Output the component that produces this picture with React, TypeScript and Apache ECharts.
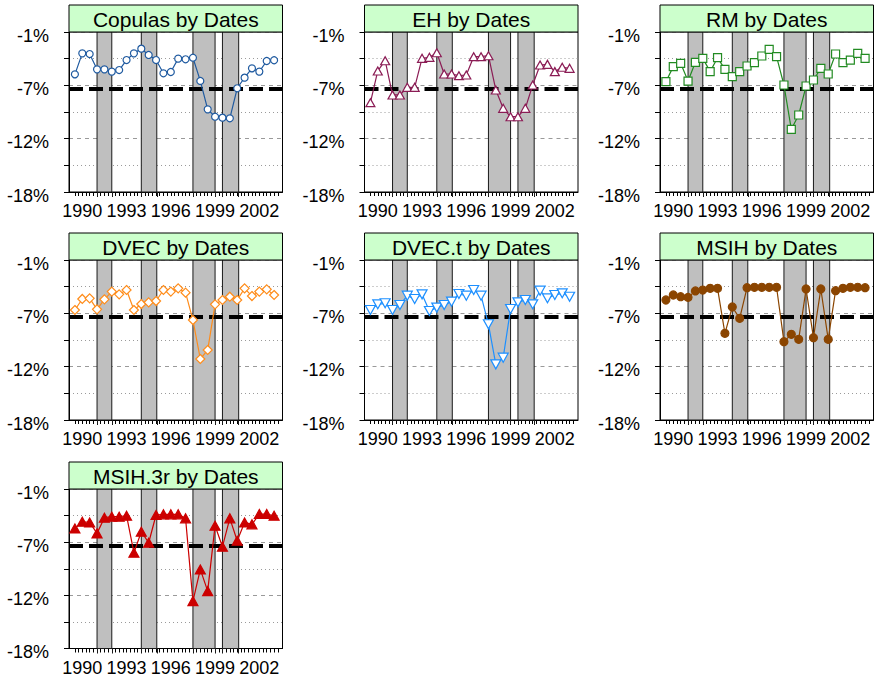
import React, { useEffect, useRef } from "react";
import * as echarts from "echarts";

const FONT = '"Liberation Sans", Arial, sans-serif';

const panelNames = ["Copulas", "EH", "RM", "DVEC", "DVEC.t", "MSIH", "MSIH.3r"];

const dates = [
  1989.5, 1990.0, 1990.5, 1991.0, 1991.5, 1992.0, 1992.5, 1993.0, 1993.5, 1994.0,
  1994.5, 1995.0, 1995.5, 1996.0, 1996.5, 1997.0, 1997.5, 1998.0, 1998.5, 1999.0,
  1999.5, 2000.0, 2000.5, 2001.0, 2001.5, 2002.0, 2002.5, 2003.0,
];

const copulas = [-5.5, -3.27, -3.34, -4.97, -4.97, -5.21, -5.04, -3.98, -3.27, -2.77, -3.44, -3.98, -5.39, -5.25, -3.83, -3.9, -3.73, -6.2, -9.22, -10.0, -10.1, -10.17, -6.98, -5.85, -4.86, -5.21, -4.08, -4.0];
const eh = [-8.51, -5.14, -4.05, -7.69, -7.69, -6.88, -6.88, -3.8, -3.69, -3.2, -5.46, -5.46, -5.64, -5.57, -3.62, -3.62, -3.52, -7.16, -9.11, -10.0, -10.0, -9.11, -6.63, -4.51, -4.44, -5.21, -4.75, -4.86];
const rm = [-6.28, -4.68, -4.33, -6.21, -4.22, -3.8, -5.21, -3.73, -4.97, -5.75, -5.21, -4.61, -4.26, -3.55, -2.84, -3.62, -6.63, -11.34, -9.82, -6.74, -6.1, -4.86, -5.46, -3.34, -4.26, -3.98, -3.27, -3.8];
const dvec = [-6.31, -5.14, -5.07, -6.24, -5.18, -4.36, -4.65, -4.19, -6.31, -5.68, -5.5, -5.36, -4.19, -4.36, -4.01, -4.47, -7.38, -11.52, -10.56, -5.71, -5.25, -4.9, -5.25, -4.01, -4.83, -4.36, -4.12, -4.72];
const dvecT = [-6.31, -5.71, -5.6, -6.31, -5.78, -4.79, -5.14, -4.65, -6.42, -6.06, -5.78, -5.43, -4.61, -4.79, -4.19, -4.79, -7.83, -12.09, -11.38, -6.21, -5.5, -5.25, -5.71, -4.26, -5.07, -4.72, -4.54, -4.9];
const msih = [-5.25, -4.72, -4.9, -4.97, -4.29, -4.19, -4.01, -4.01, -8.79, -5.99, -7.2, -3.94, -3.9, -3.9, -3.9, -3.9, -9.68, -8.9, -9.43, -4.08, -9.25, -4.08, -9.43, -4.26, -4.01, -3.9, -3.9, -3.94];
const msih3r = [-5.2, -4.49, -4.56, -5.73, -4.06, -3.95, -3.95, -3.85, -7.79, -5.55, -6.73, -3.77, -3.7, -3.7, -3.7, -4.13, -12.95, -9.57, -11.88, -4.91, -7.15, -4.13, -6.51, -4.56, -4.77, -3.67, -3.67, -3.85];

const seriesValues = [copulas, eh, rm, dvec, dvecT, msih, msih3r];

// shaded periods (decimal years)
const bands = [
  [1991.0, 1992.0],
  [1994.0, 1995.05],
  [1997.5, 1999.0],
  [1999.5, 2000.6],
];
const bandEdges = bands.flat();

const threshold = -7;
const yMin = -18;
const yMax = -1;
const xMin = 1989.1;
const xMax = 2003.57;
const yearLabels = [1990, 1993, 1996, 1999, 2002];
const quarterTicks: number[] = [];
for (let q = 1989.5; q <= 2003.26; q += 0.25) quarterTicks.push(Math.round(q * 100) / 100);

const styles = [
  { color: "#1f5aa0", symbol: "circle", size: 7, filled: false, rotate: 0 },
  { color: "#8b1c55", symbol: "triangle", size: [9, 8], filled: false, rotate: 0 },
  { color: "#228b22", symbol: "rect", size: 8, filled: false, rotate: 0 },
  { color: "#ff8c1a", symbol: "diamond", size: [9, 9], filled: false, rotate: 0 },
  { color: "#1e90ff", symbol: "triangle", size: [10, 9], filled: false, rotate: 180 },
  { color: "#8b4500", symbol: "circle", size: 8, filled: true, rotate: 0 },
  { color: "#cc0000", symbol: "triangle", size: [10, 9], filled: true, rotate: 0 },
];

const PANEL_W = 213.5;
const STRIP_H = 27;
const lefts = [69, 364.5, 660];
const tops = [32, 260, 489];
const heights = [160, 160, 159.5];

export default function App() {
  const ref = useRef<HTMLDivElement>(null);
  useEffect(() => {
    if (!ref.current) return;
    const chart = echarts.init(ref.current, null, { renderer: "svg" });
    const grids: any[] = [];
    const xAxes: any[] = [];
    const yAxes: any[] = [];
    const series: any[] = [];
    const graphics: any[] = [];
    panelNames.forEach((name, i) => {
      const col = i % 3;
      const row = Math.floor(i / 3);
      const left = lefts[col];
      const top = tops[row];
      const h = heights[row];
      grids.push({
        left,
        top,
        width: PANEL_W,
        height: h,
        show: true,
        borderColor: "#000",
        borderWidth: 1,
        backgroundColor: "#fff",
        containLabel: false,
        outerBoundsMode: "none",
      });
      xAxes.push({
        type: "value",
        gridIndex: i,
        position: "bottom",
        min: xMin,
        max: xMax,
        axisLine: { show: true, onZero: false, lineStyle: { color: "#000", width: 1 } },
        axisTick: { show: true, length: 4, customValues: quarterTicks, lineStyle: { color: "#000", width: 1 } },
        axisLabel: {
          customValues: yearLabels,
          formatter: (v: number) => String(Math.round(v)),
          fontSize: 18,
          fontFamily: FONT,
          color: "#000",
          margin: 10,
        },
        splitLine: { show: false },
      });
      yAxes.push({
        type: "value",
        gridIndex: i,
        min: yMin,
        max: yMax,
        interval: (yMax - yMin) / 3,
        axisLine: { show: true, onZero: false, lineStyle: { color: "#000", width: 1 } },
        axisTick: { show: true, length: 5, lineStyle: { color: "#000", width: 1 } },
        minorTick: { show: true, splitNumber: 2, length: 5, lineStyle: { color: "#000", width: 1 } },
        splitLine: { show: true, lineStyle: { color: "#9a9a9a", type: [4, 4], width: 1 } },
        minorSplitLine: { show: true, lineStyle: { color: "#9a9a9a", type: [1, 3], width: 1 } },
        axisLabel: {
          formatter: (v: number) => Math.round(v) + "%",
          fontSize: 18,
          fontFamily: FONT,
          color: "#000",
          margin: 20,
          verticalAlign: "top",
          lineHeight: 7,
        },
      });
      const st = styles[i];
      series.push({
        type: "line",
        name,
        xAxisIndex: i,
        yAxisIndex: i,
        data: dates.map((d, k) => [d, seriesValues[i][k]]),
        z: 3,
        symbol: st.symbol,
        symbolSize: st.size,
        symbolRotate: st.rotate,
        showSymbol: true,
        showAllSymbol: true,
        lineStyle: { color: st.color, width: 1.2 },
        itemStyle: {
          color: st.filled ? st.color : "#fff",
          borderColor: st.color,
          borderWidth: 1.2,
        },
        emphasis: { disabled: true },
        markArea: {
          silent: true,
          z: 1,
          itemStyle: { color: "#bfbfbf", borderColor: "#1a1a1a", borderWidth: 1 },
          label: { show: false },
          data: bands.map((b) => [{ xAxis: b[0] }, { xAxis: b[1] }]),
        },
        markLine: {
          silent: true,
          z: 2,
          symbol: ["none", "none"],
          label: { show: false },
          lineStyle: { color: "#000", width: 4, type: [14, 6] },
          data: [{ yAxis: threshold }],
        },
      });
      graphics.push({
        type: "rect",
        shape: { x: left, y: top - STRIP_H, width: PANEL_W, height: STRIP_H },
        style: { fill: "#ccffcc", stroke: "#000", lineWidth: 1 },
        z: 10,
      });
      graphics.push({
        type: "text",
        x: left + PANEL_W / 2,
        y: top - STRIP_H + 14.5,
        style: {
          text: name + " by Dates",
          font: `21px ${FONT}`,
          fill: "#000",
          textAlign: "center",
          textVerticalAlign: "middle",
          align: "center",
          verticalAlign: "middle",
        },
        z: 11,
      });
    });
    // band-edge ticks extending below each panel
    panelNames.forEach((_, i) => {
      xAxes.push({
        type: "value",
        gridIndex: i,
        position: "bottom",
        offset: 0,
        min: xMin,
        max: xMax,
        axisLine: { show: false, onZero: false },
        axisTick: { show: true, length: 5, customValues: bandEdges, lineStyle: { color: "#1a1a1a", width: 1 } },
        axisLabel: { show: false },
        splitLine: { show: false },
      });
    });
    chart.setOption({
      animation: false,
      backgroundColor: "#fff",
      grid: grids,
      xAxis: xAxes,
      yAxis: yAxes,
      series,
      graphic: { elements: graphics },
    });
    return () => chart.dispose();
  }, []);
  return (
    <div
      ref={ref}
      style={{ position: "absolute", left: 0, top: 0, width: 874, height: 683 }}
    />
  );
}
